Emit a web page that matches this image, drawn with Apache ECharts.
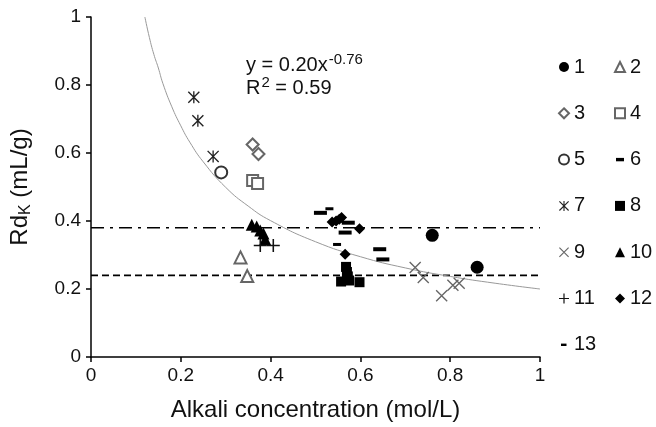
<!DOCTYPE html>
<html>
<head>
<meta charset="utf-8">
<script src="https://cdn.jsdelivr.net/npm/echarts@6/dist/echarts.min.js"></script>
<style>html,body{margin:0;padding:0;background:#fff}#c{width:656px;height:427px}</style>
</head>
<body>
<div id="c"></div>
<script>
const yTicks = [0, 0.2, 0.4, 0.6, 0.8, 1];
const xTicks = [0, 0.2, 0.4, 0.6, 0.8, 1];
const s1 = [[0.76,0.358],[0.86,0.264]];
const s2 = [[0.333,0.293],[0.348,0.238]];
const s3 = [[0.36,0.625],[0.373,0.597]];
const s4 = [[0.36,0.519],[0.371,0.51]];
const s5 = [[0.29,0.543]];
const s6 = [[0.511,0.424],[0.573,0.395],[0.566,0.366],[0.643,0.317],[0.65,0.287]];
const s7 = [[0.229,0.764],[0.238,0.695],[0.272,0.59]];
const s8 = [[0.557,0.222],[0.575,0.225],[0.598,0.22],[0.568,0.265],[0.57,0.25],[0.572,0.237]];
const s9 = [[0.722,0.263],[0.74,0.234],[0.781,0.18],[0.806,0.211],[0.82,0.217]];
const s10 = [[0.358,0.389],[0.369,0.384],[0.377,0.372],[0.384,0.363],[0.388,0.346]];
const s11 = [[0.377,0.328],[0.406,0.328]];
const s12 = [[0.537,0.397],[0.546,0.4],[0.558,0.41],[0.553,0.405],[0.598,0.377],[0.566,0.302]];
const s13 = [[0.531,0.436],[0.548,0.331]];
const curveX = [0.12,0.13,0.14,0.15,0.16,0.18,0.2,0.22,0.25,0.3,0.35,0.4,0.5,0.6,0.7,0.8,0.9,1.0];
const curveY = [1.0,0.94,0.89,0.85,0.805,0.736,0.68,0.632,0.574,0.499,0.444,0.401,0.339,0.295,0.262,0.237,0.217,0.2];
const refLines = [0.38, 0.24];
const fitText = ['y = 0.20x', '-0.76', 'R', '2', ' = 0.59'];

const FONT = 'Liberation Sans, Arial, sans-serif';
const OPEN = '#666';
const plusPath = 'path://M4.4,0H5.6V4.4H10V5.6H5.6V10H4.4V5.6H0V4.4H4.4Z';
const xPath = 'path://M0,0.8L0.8,0L10,9.2L9.2,10ZM9.2,0L10,0.8L0.8,10L0,9.2Z';
const astPath = 'path://M0,0.8L0.8,0L10,9.2L9.2,10ZM9.2,0L10,0.8L0.8,10L0,9.2ZM4.45,0H5.55V10H4.45Z';
const dash6 = 'path://M1,3.3H9V6.7H1Z M0,0L0,0 M10,10L10,10';
const dash13 = 'path://M2,3.8H7.5V6.2H2Z M0,0L0,0 M10,10L10,10';

function sc(name, data, symbol, size, color, extra) {
  return Object.assign({
    type: 'scatter', name: name, data: data, symbol: symbol, symbolSize: size,
    itemStyle: { color: color, borderColor: color, borderWidth: symbol.indexOf('empty') === 0 ? 1.2 : 0, opacity: 1 },
    z: 5
  }, extra || {});
}

const chart = echarts.init(document.getElementById('c'));
const legendText = { fontFamily: FONT, fontSize: 20, color: '#111', lineHeight: 20 };
chart.setOption({
  animation: false,
  textStyle: { fontFamily: FONT },
  grid: { left: 91, right: 116, top: 17, bottom: 69 },
  xAxis: {
    type: 'value', min: xTicks[0], max: xTicks[xTicks.length-1], interval: 0.2,
    name: 'Alkali concentration (mol/L)', nameLocation: 'middle', nameGap: 41,
    nameTextStyle: { fontSize: 24, color: '#111', lineHeight: 24 },
    axisLine: { lineStyle: { color: '#000', width: 1.5 } },
    axisTick: { inside: false, length: 5, lineStyle: { color: '#000', width: 1.5 } },
    axisLabel: { fontSize: 19, color: '#111', margin: 9 },
    splitLine: { show: false }
  },
  yAxis: {
    type: 'value', min: yTicks[0], max: yTicks[yTicks.length-1], interval: 0.2,
    name: '{a|Rd}{b|K}{a| (mL/g)}', nameLocation: 'middle', nameGap: 57, nameRotate: 90,
    nameTextStyle: { rich: {
      a: { fontSize: 24, color: '#111', fontFamily: FONT, lineHeight: 28, verticalAlign: 'middle' },
      b: { fontSize: 16, color: '#111', fontFamily: FONT, lineHeight: 28, verticalAlign: 'bottom', padding: [8,0,0,0] }
    } },
    axisLine: { lineStyle: { color: '#000', width: 1.5 } },
    axisTick: { inside: false, length: 5, lineStyle: { color: '#000', width: 1.5 } },
    axisLabel: { fontSize: 19, color: '#111', margin: 10 },
    splitLine: { show: false }
  },
  legend: [
    { orient: 'vertical', left: 553, top: 52, itemWidth: 10, itemHeight: 10, itemGap: 26.3, textStyle: legendText, selectedMode: false,
      data: [
        { name: '1' }, { name: '3' }, { name: '5' }, { name: '7' }, { name: '9' }, { name: '11' },
        { name: '13', icon: dash13 }
      ] },
    { orient: 'vertical', left: 609, top: 52, itemWidth: 10, itemHeight: 10, itemGap: 26.3, textStyle: legendText, selectedMode: false,
      data: [
        { name: '2' }, { name: '4' }, { name: '6', icon: dash6 }, { name: '8' }, { name: '10' }, { name: '12' }
      ] }
  ],
  graphic: [
    { type: 'text', left: 246, top: 52, z: 10, style: {
      text: '{n|' + fitText[0] + '}{s|' + fitText[1] + '}\n{n|' + fitText[2] + '}{s|' + fitText[3] + '}{n|' + fitText[4] + '}',
      rich: {
        n: { fontSize: 20, fill: '#111', fontFamily: FONT, lineHeight: 23, verticalAlign: 'bottom' },
        s: { fontSize: 15, fill: '#111', fontFamily: FONT, lineHeight: 23, verticalAlign: 'top', padding: [0,0,6,1] }
      }
    } }
  ],
  series: [
    sc('1', s1, 'circle', 13, '#000'),
    sc('2', s2, 'emptyTriangle', 12, OPEN),
    sc('3', s3, 'emptyDiamond', 12, OPEN),
    sc('4', s4, 'emptyRect', 11, OPEN),
    sc('5', s5, 'emptyCircle', 12, '#333'),
    sc('6', s6, 'rect', [13, 4], '#000'),
    sc('7', s7, astPath, 12, '#222'),
    sc('8', s8, 'rect', 10, '#000'),
    sc('9', s9, xPath, 12, OPEN),
    sc('10', s10, 'triangle', 12, '#000'),
    sc('11', s11, plusPath, 13, '#111'),
    sc('12', s12, 'diamond', 11, '#000'),
    sc('13', s13, 'rect', [8, 3], '#000'),
    { type: 'line', name: 'fit', data: curveX.map((x, i) => [x, curveY[i]]), smooth: true, symbol: 'none',
      lineStyle: { color: '#999', width: 1 }, z: 3, silent: true },
    { type: 'line', name: 'ref1', data: [[0, refLines[0]], [1, refLines[0]]], symbol: 'none',
      lineStyle: { color: '#000', width: 1.6, type: [13, 6, 3, 6] }, z: 2, silent: true },
    { type: 'line', name: 'ref2', data: [[0, refLines[1]], [1, refLines[1]]], symbol: 'none',
      lineStyle: { color: '#000', width: 1.6, type: [7, 4] }, z: 2, silent: true }
  ]
});
</script>
</body>
</html>
